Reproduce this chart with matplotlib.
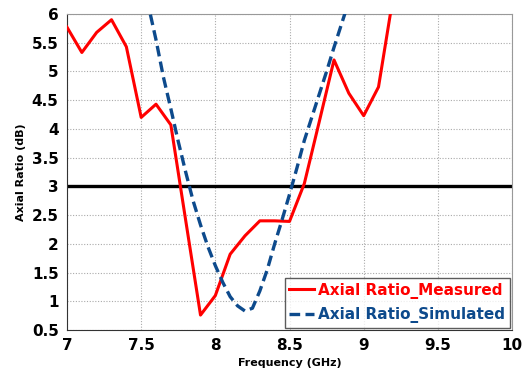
import numpy as np
import matplotlib.pyplot as plt
from matplotlib.ticker import FormatStrFormatter, MultipleLocator

# Measured axial ratio (dB) vs frequency (GHz)
freq_meas = [7.0, 7.1, 7.2, 7.3, 7.4, 7.5, 7.6, 7.7, 7.8, 7.9, 8.0, 8.1,
             8.2, 8.3, 8.4, 8.5, 8.6, 8.7, 8.8, 8.9, 9.0, 9.1, 9.2]
ar_meas = [5.77, 5.33, 5.68, 5.9, 5.43, 4.2, 4.43, 4.07, 2.41, 0.76, 1.1, 1.82,
           2.14, 2.4, 2.4, 2.39, 3.05, 4.12, 5.2, 4.62, 4.23, 4.73, 6.32]

# Simulated axial ratio (dB)
freq_sim = [7.5, 7.55, 7.6, 7.65, 7.7, 7.75, 7.8, 7.85, 7.9, 7.95, 8.0, 8.05,
            8.1, 8.15, 8.2, 8.25, 8.3, 8.35, 8.4, 8.45, 8.5, 8.55, 8.6, 8.65,
            8.7, 8.75, 8.8, 8.85, 8.9]
ar_sim = [6.75, 6.13, 5.55, 4.9, 4.35, 3.78, 3.25, 2.75, 2.33, 1.95, 1.62, 1.33,
          1.08, 0.92, 0.83, 0.88, 1.18, 1.55, 2.0, 2.42, 2.86, 3.32, 3.8, 4.2,
          4.6, 5.0, 5.42, 5.82, 6.22]

threshold = 3.0

fig = plt.figure(figsize=(5.26, 3.76), dpi=100)
ax = fig.add_axes([0.1274, 0.1223, 0.846, 0.8405])

ax.axhline(threshold, color='black', linewidth=2.4, zorder=2)
ax.plot(freq_meas, ar_meas, color='#ff0000', linewidth=2.2,
        label='Axial Ratio_Measured', zorder=3)
ax.plot(freq_sim, ar_sim, color='#0d4a8c', linewidth=2.4, linestyle=(0, (3.2, 1.6)),
        label='Axial Ratio_Simulated', zorder=3)

ax.set_xlim(7, 10)
ax.set_ylim(0.5, 6)
ax.xaxis.set_major_locator(MultipleLocator(0.5))
ax.yaxis.set_major_locator(MultipleLocator(0.5))
ax.xaxis.set_major_formatter(FormatStrFormatter('%g'))
ax.yaxis.set_major_formatter(FormatStrFormatter('%g'))
ax.grid(True, color='#aaaaaa', linestyle=(0, (1, 1.5)), linewidth=0.8)
ax.set_axisbelow(True)

for side in ['top', 'right']:
    ax.spines[side].set_color('#999999')
for side in ['left', 'bottom']:
    ax.spines[side].set_color('#333333')
ax.tick_params(length=0, pad=6, labelsize=11)
for lbl in ax.get_xticklabels() + ax.get_yticklabels():
    lbl.set_fontweight('bold')

ax.set_xlabel('Frequency (GHz)', fontsize=8, fontweight='bold', labelpad=3)
ax.set_ylabel('Axial Ratio (dB)', fontsize=8, fontweight='bold', labelpad=4)

leg = ax.legend(loc='lower right', prop={'weight': 'bold', 'size': 11},
                frameon=True, fancybox=False, edgecolor='#333333',
                handlelength=1.6, handletextpad=0.3, borderpad=0.3,
                labelspacing=0.55, borderaxespad=0.15)
leg.get_frame().set_linewidth(1.0)
for text, color in zip(leg.get_texts(), ['#ff0000', '#0d4a8c']):
    text.set_color(color)

fig.savefig('out.png', dpi=100)
